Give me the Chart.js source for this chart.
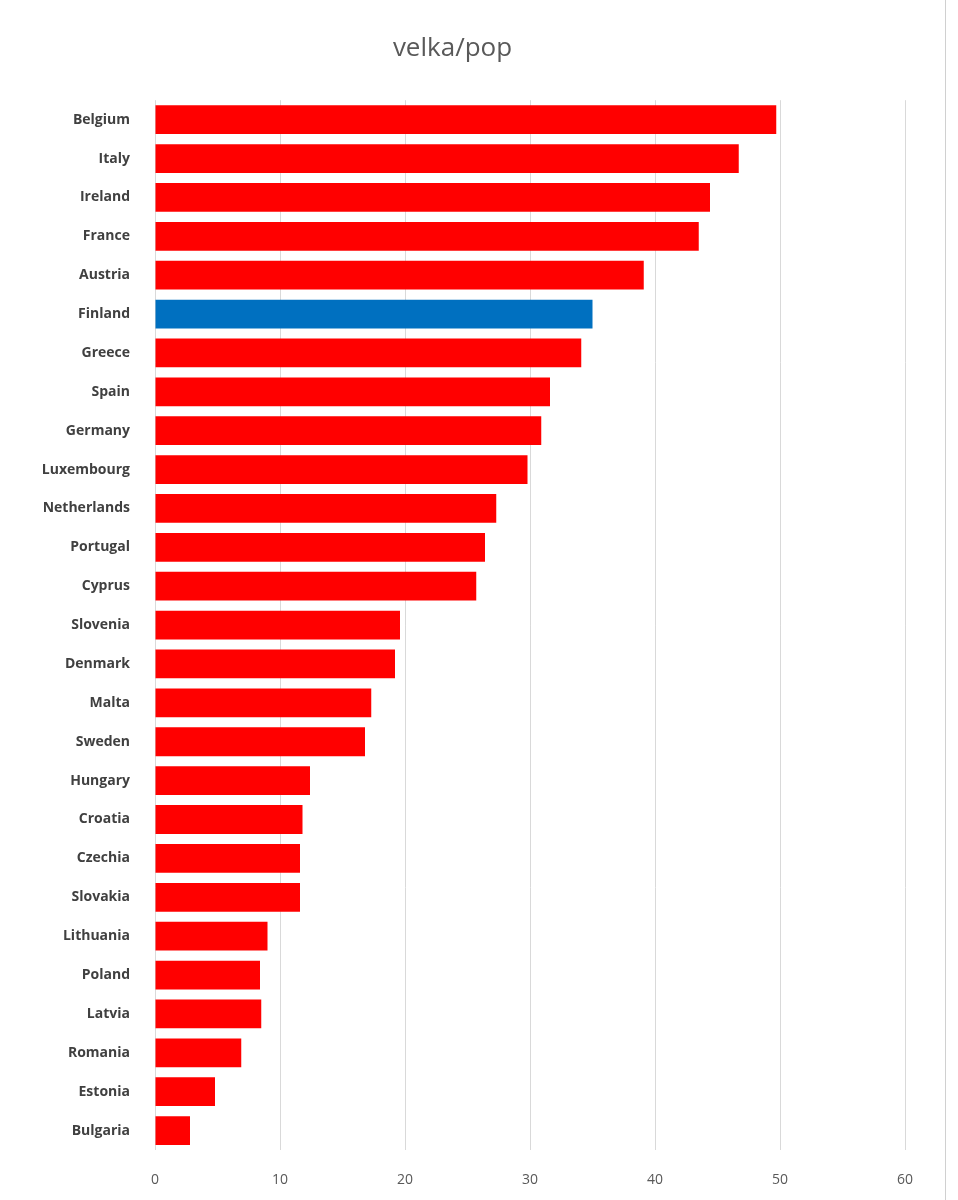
<!DOCTYPE html>
<html>
<head>
<meta charset="utf-8">
<script src="https://cdn.jsdelivr.net/npm/chart.js@4.4.1/dist/chart.umd.min.js"></script>
<style>
  html, body { margin: 0; padding: 0; background: #fff; }
  #wrap { width: 958px; height: 1200px; position: relative; }
</style>
</head>
<body>
<div id="wrap"><canvas id="chart" width="958" height="1200"></canvas></div>
<script>
// Valeurs
const countries = ["Belgium", "Italy", "Ireland", "France", "Austria", "Finland", "Greece", "Spain",
    "Germany", "Luxembourg", "Netherlands", "Portugal", "Cyprus", "Slovenia", "Denmark", "Malta",
    "Sweden", "Hungary", "Croatia", "Czechia", "Slovakia", "Lithuania", "Poland", "Latvia",
    "Romania", "Estonia", "Bulgaria"];
const values = [49.7, 46.7, 44.4, 43.5, 39.1, 35.0, 34.1, 31.6, 30.9, 29.8, 27.3, 26.4, 25.7,
    19.6, 19.2, 17.3, 16.8, 12.4, 11.8, 11.6, 11.6, 9.0, 8.4, 8.5, 6.9, 4.8, 2.8];
const highlight = "Finland";
const xTicks = [0, 10, 20, 30, 40, 50, 60];

const barColors = countries.map(c => c === highlight ? "#0070C0" : "#FF0000");

// Bordure du cadre du graphique
const frameLine = {
    id: 'frameLine',
    beforeDraw(chart) {
        const ctx = chart.ctx;
        ctx.save();
        ctx.fillStyle = '#fff';
        ctx.fillRect(0, 0, chart.width, chart.height);
        ctx.strokeStyle = '#d0d0d0';
        ctx.lineWidth = 1;
        ctx.beginPath();
        ctx.moveTo(945.5, 0);
        ctx.lineTo(945.5, chart.height);
        ctx.stroke();
        ctx.restore();
    }
};

new Chart(document.getElementById('chart').getContext('2d'), {
    type: 'bar',
    data: {
        labels: countries,
        datasets: [{ data: values, backgroundColor: barColors, categoryPercentage: 0.74, barPercentage: 1 }]
    },
    options: {
        indexAxis: 'y',
        responsive: false,
        animation: false,
        layout: { padding: { left: 0, right: 53, top: 0, bottom: 0 } },
        plugins: {
            legend: { display: false },
            tooltip: { enabled: false },
            title: {
                display: true,
                text: 'velka/pop',
                color: '#595959',
                font: { family: 'Open Sans', size: 26, weight: 'normal' },
                padding: { top: 33, bottom: 36 }
            }
        },
        scales: {
            x: {
                min: 0, max: 60,
                afterBuildTicks: s => { s.ticks = xTicks.map(v => ({ value: v })); },
                afterFit: s => { s.height = 50; },
                grid: { color: '#d9d9d9', drawTicks: false },
                border: { display: false },
                ticks: { color: '#595959', padding: 22, font: { family: 'Open Sans', size: 14 } }
            },
            y: {
                afterFit: s => { s.width = 155; },
                grid: { display: false },
                border: { display: false },
                ticks: { color: '#404040', padding: 17, font: { family: 'Open Sans', size: 14, weight: 'bold' } }
            }
        }
    },
    plugins: [frameLine]
});
</script>
</body>
</html>
